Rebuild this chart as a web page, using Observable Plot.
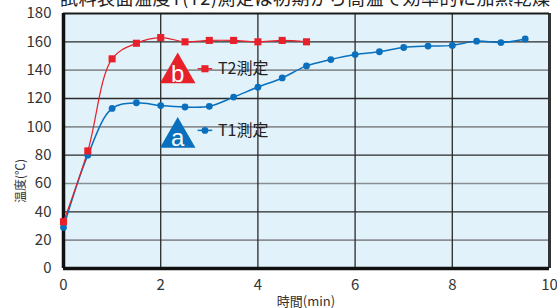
<!DOCTYPE html>
<html>
<head>
<meta charset="utf-8">
<script src="https://cdn.jsdelivr.net/npm/d3@7"></script>
<script src="https://cdn.jsdelivr.net/npm/@observablehq/plot@0.6"></script>
<style>
  html, body { margin: 0; padding: 0; background: #fff; }
  #chart { width: 557px; height: 308px; overflow: hidden; }
</style>
</head>
<body>
<div id="chart"></div>
<script>
// Time (min)
const t2Time = [0, 0.5, 1, 1.5, 2, 2.5, 3, 3.5, 4, 4.5, 5];
const t2Temp = [33, 83, 148, 159, 163, 160, 161, 161, 160, 161, 160];
const t1Time = [0, 0.5, 1, 1.5, 2, 2.5, 3, 3.5, 4, 4.5, 5, 5.5, 6, 6.5, 7, 7.5, 8, 8.5, 9, 9.5];
const t1Temp = [29, 80, 113, 117, 115, 114, 114.5, 121, 128, 134.5, 143, 147.5, 151, 153, 156, 157, 157.5, 160.5, 159.5, 162];
const xTicks = [0, 2, 4, 6, 8, 10];
const yTicks = [0, 20, 40, 60, 80, 100, 120, 140, 160, 180];
const seriesNames = ["T2測定", "T1測定"];
const badgeLetters = ["b", "a"];
const colors = ["#e8202a", "#0a70bd"];
// annotation anchors (data units)
const badgeX = [2.35, 2.35];
const badgeY = [138, 92.5];
const legendX = [2.91, 2.91];
const legendY = [141, 97.5];

const t2 = t2Time.map((x, i) => ({x, y: t2Temp[i]}));
const t1 = t1Time.map((x, i) => ({x, y: t1Temp[i]}));
const grid = yTicks.filter(v => v > 0 && v < 180).map(v => ({v, dark: v % 40 === 0}));
const notes = seriesNames.map((name, i) => ({
  name, letter: badgeLetters[i], color: colors[i],
  bx: badgeX[i], by: badgeY[i], lx: legendX[i], ly: legendY[i]
}));

const font = "'Noto Sans CJK JP', 'Noto Sans', sans-serif";

const chart = Plot.plot({
  width: 557,
  height: 308,
  marginLeft: 63,
  marginRight: 8,
  marginTop: 13,
  marginBottom: 40,
  style: {fontFamily: font, background: "transparent", overflow: "visible"},
  x: {domain: [0, 10], ticks: xTicks, label: null},
  y: {domain: [0, 180], ticks: yTicks, label: null},
  marks: [
    Plot.frame({fill: "#e1f2fb", stroke: null}),
    Plot.ruleY(grid.filter(d => !d.dark), {y: "v", stroke: "#8a8f94", strokeWidth: 1.6}),
    Plot.ruleY(grid.filter(d => d.dark), {y: "v", stroke: "#2a2a2a", strokeWidth: 1.4}),
    Plot.ruleX(xTicks.filter(v => v > 0 && v < 10), {stroke: "#2a2a2a", strokeWidth: 1.3}),
    Plot.ruleX([10], {stroke: "#333", strokeWidth: 3}),
    Plot.ruleY([180], {stroke: "#1a1a1a", strokeWidth: 2}),
    Plot.ruleX([0], {stroke: "#111", strokeWidth: 3.5}),
    Plot.ruleY([0], {stroke: "#111", strokeWidth: 3.5}),
    Plot.axisX({ticks: xTicks, tickSize: 0, tickPadding: 11, fontSize: 15, color: "#333", label: null}),
    Plot.axisY({ticks: yTicks, tickSize: 0, tickPadding: 12, fontSize: 15, color: "#333", label: null}),
    // series
    Plot.line(t1, {x: "x", y: "y", stroke: colors[1], strokeWidth: 1.5, curve: "catmull-rom"}),
    Plot.line(t2, {x: "x", y: "y", stroke: colors[0], strokeWidth: 1.2, curve: "catmull-rom"}),
    Plot.dot(t1, {x: "x", y: "y", r: 3.4, fill: colors[1], stroke: null}),
    Plot.dot(t2, {x: "x", y: "y", r: 4, symbol: "square", fill: colors[0], stroke: null}),
    // badges
    Plot.dot(notes, {x: "bx", y: "by", r: 13.2, symbol: "triangle", fill: "color", stroke: null}),
    Plot.text(notes, {x: "bx", y: "by", text: "letter", fill: "white", fontSize: 24, dy: 1, fontFamily: "'Liberation Sans', sans-serif"}),
    // legend entries
    Plot.link(notes, {x1: d => d.lx - 0.15, x2: d => d.lx + 0.15, y1: "ly", y2: "ly", stroke: "color", strokeWidth: 1.5}),
    Plot.dot(notes.filter(d => d.letter === "b"), {x: "lx", y: "ly", r: 4, symbol: "square", fill: "color", stroke: null}),
    Plot.dot(notes.filter(d => d.letter === "a"), {x: "lx", y: "ly", r: 3.4, fill: "color", stroke: null}),
    Plot.text(notes, {x: "lx", y: "ly", text: "name", dx: 13, textAnchor: "start", fontSize: 16, fill: "#222"})
  ]
});

const svg = d3.select(chart);
svg.append("text")
  .attr("x", 60).attr("y", 5)
  .attr("text-anchor", "start")
  .attr("font-size", 18).attr("fill", "#222")
  .attr("font-family", font)
  .attr("textLength", 490).attr("lengthAdjust", "spacing")
  .text("試料表面温度T(T2)測定は初期から高温で効率的に加熱乾燥");
svg.append("text")
  .attr("transform", "translate(25,181) rotate(-90)")
  .attr("text-anchor", "middle")
  .attr("font-size", 12).attr("fill", "#333")
  .attr("font-family", font)
  .text("温度(℃)");
svg.append("text")
  .attr("x", 306).attr("y", 306)
  .attr("text-anchor", "middle")
  .attr("font-size", 13).attr("fill", "#333")
  .attr("font-family", font)
  .text("時間(min)");

document.getElementById("chart").appendChild(chart);
</script>
</body>
</html>
